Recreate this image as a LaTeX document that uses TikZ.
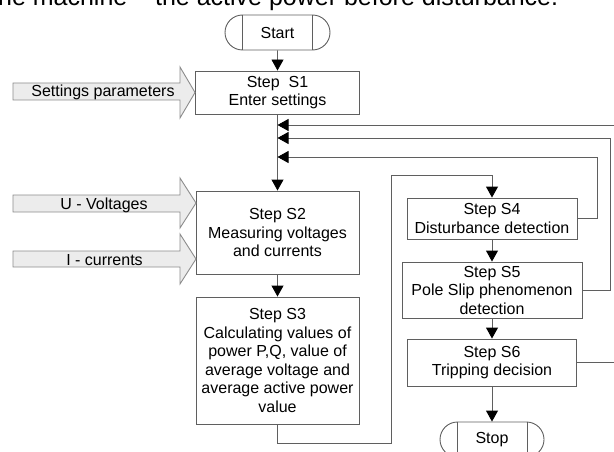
\documentclass[tikz,border=0pt]{standalone}
\usepackage{fontspec}
\setmainfont{Liberation Sans}
\usetikzlibrary{arrows.meta,shapes.misc}
\definecolor{linegray}{RGB}{95,95,95}
\definecolor{inputgray}{RGB}{140,140,140}
\definecolor{inputfill}{RGB}{236,236,236}
\tikzset{
  stepbox/.style={draw=linegray, fill=white, line width=0.9pt, align=center,
    inner sep=0pt, font=\fontsize{16}{18.5}\selectfont},
  terminal/.style={rounded rectangle, draw=linegray, line width=0.9pt,
    minimum width=105pt, minimum height=35pt, inner sep=0pt,
    font=\fontsize{16}{18.5}\selectfont},
  link/.style={draw=linegray, line width=0.9pt},
  flow/.style={link, -{Triangle[length=11pt,width=12pt,black]}},
  inputarrow/.style={draw=inputgray, fill=inputfill, line width=0.9pt},
  inputlabel/.style={anchor=base, inner sep=0pt, font=\fontsize{16}{18.5}\selectfont}
}
\begin{document}
\begin{tikzpicture}[x=1pt,y=1pt]
  \useasboundingbox (0,0) rectangle (614,-452);
  % last line of the text above, cut by the top edge
  \node[anchor=base west, inner sep=0pt, font=\fontsize{25}{30}\selectfont]
    (caption) at (-9,-6) {the machine – the active power before disturbance.};
  % terminals and steps
  \node[terminal] (start) at (277.5,-32.5) {Start};
  \node[stepbox, minimum width=164pt, minimum height=43pt] (s1) at (277.5,-92.5)
    {Step~ S1\\Enter settings};
  \node[stepbox, minimum width=163pt, minimum height=83pt] (s2) at (277.5,-232.5)
    {Step S2\\Measuring voltages\\and currents};
  \node[stepbox, minimum width=163pt, minimum height=127pt] (s3) at (277.5,-360.5)
    {Step S3\\Calculating values of\\power P,Q, value of\\average voltage and\\average active power\\value};
  \node[stepbox, minimum width=170pt, minimum height=41pt] (s4) at (492,-218.5)
    {Step S4\\Disturbance detection};
  \node[stepbox, minimum width=180pt, minimum height=56pt] (s5) at (492,-290)
    {Step S5\\Pole Slip phenomenon\\detection};
  \node[stepbox, minimum width=169pt, minimum height=47pt] (s6) at (492,-362.5)
    {Step S6\\Tripping decision};
  \node[terminal, minimum width=104pt] (stop) at (492,-439.5) {Stop};
  \foreach \t in {start,stop}
    \draw[link] ([xshift=-35pt]\t.north) -- ([xshift=-35pt]\t.south)
                ([xshift=35pt]\t.north) -- ([xshift=35pt]\t.south);
  % input arrows
  \draw[inputarrow] (13,-83) -- (180,-83) -- (180,-67) -- (s1.west)
    -- (180,-118) -- (180,-100) -- (13,-100) -- cycle;
  \node[inputlabel] (setpar) at (103,-97) {Settings parameters};
  \draw[inputarrow] (13,-195) -- (180,-195) -- (180,-178) -- (196,-203)
    -- (180,-228) -- (180,-212) -- (13,-212) -- cycle;
  \node[inputlabel] (volt) at (104,-209) {U - Voltages};
  \draw[inputarrow] (13,-251) -- (180,-251) -- (180,-234) -- (196,-259)
    -- (180,-284) -- (180,-267) -- (13,-267) -- cycle;
  \node[inputlabel] (curr) at (104.5,-265) {I - currents};
  % main flow
  \coordinate (loop) at (391,-175);
  \draw[flow] (start) -- (s1);
  \draw[flow] (s1) -- (s2);
  \draw[flow] (s2) -- (s3);
  \draw[flow] (s3.south) -- ++(0,-19) -| (loop) -| (s4.north);
  \draw[flow] (s4) -- (s5);
  \draw[flow] (s5) -- (s6);
  \draw[flow] (s6) -- (stop);
  % feedback into the line below S1
  \coordinate (j1) at (277.5,-125);
  \coordinate (j2) at (277.5,-138);
  \coordinate (j3) at (277.5,-157);
  \draw[flow] (s4.east) -- ++(20,0) |- (j3);
  \draw[flow] (s5.east) -- ++(28,0) |- (j2);
  \draw[flow] (s6.east) -- ++(50,0) |- (j1);
\end{tikzpicture}
\end{document}
